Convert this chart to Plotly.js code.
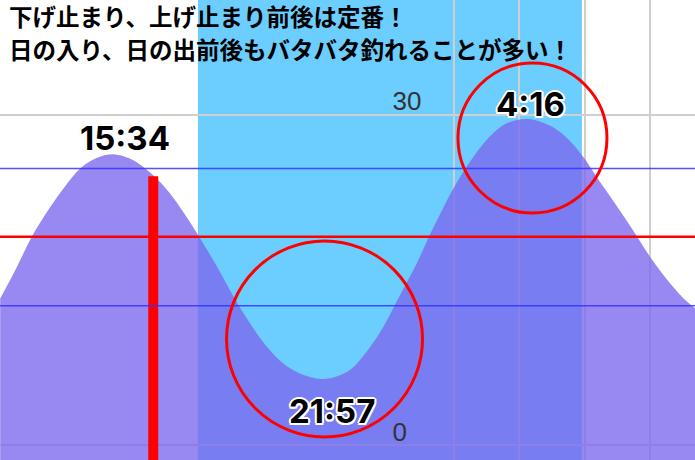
<!DOCTYPE html>
<html>
<head>
<meta charset="utf-8">
<script src="https://cdn.plot.ly/plotly-3.0.1.min.js"></script>
<style>
  html, body { margin: 0; padding: 0; background: #fff; }
  #tide-plot { width: 695px; height: 460px; }
</style>
</head>
<body>
<div id="tide-plot"></div>
<script>
// tide level
var tideTimes = [
    '2024-05-01 12:07', '2024-05-01 12:37', '2024-05-01 13:05', '2024-05-01 13:39',
    '2024-05-01 14:08', '2024-05-01 14:34', '2024-05-01 15:04', '2024-05-01 15:34',
    '2024-05-01 16:05', '2024-05-01 16:36', '2024-05-01 17:00', '2024-05-01 17:24',
    '2024-05-01 17:48', '2024-05-01 18:10', '2024-05-01 18:45', '2024-05-01 19:14',
    '2024-05-01 19:45', '2024-05-01 20:17', '2024-05-01 20:47', '2024-05-01 21:17',
    '2024-05-01 21:57', '2024-05-01 22:23', '2024-05-01 22:49', '2024-05-01 23:20',
    '2024-05-01 23:50', '2024-05-02 00:21', '2024-05-02 00:52', '2024-05-02 01:15',
    '2024-05-02 01:35', '2024-05-02 02:05', '2024-05-02 02:35', '2024-05-02 03:06',
    '2024-05-02 03:37', '2024-05-02 04:16', '2024-05-02 04:56', '2024-05-02 05:27',
    '2024-05-02 05:57', '2024-05-02 06:28', '2024-05-02 06:59', '2024-05-02 07:30',
    '2024-05-02 08:00', '2024-05-02 08:30', '2024-05-02 09:00', '2024-05-02 09:23'
];
var tideLevels = [
    13.3, 16.1, 18.9, 21.6,
    23.6, 25.1, 26.05, 26.4,
    26.0, 25.0, 23.9, 22.5,
    20.8, 19.1, 16.2, 13.6,
    11.1, 8.9, 7.4, 6.5,
    6.0, 6.2, 6.8, 8.5,
    10.7, 13.6, 16.5, 19.0,
    21.0, 23.8, 26.1, 28.0,
    29.2, 29.6, 29.0, 27.9,
    26.2, 23.9, 21.7, 19.4,
    17.1, 15.1, 13.4, 12.4
];

// high / low tide labels
var extremeTimes  = ['2024-05-01 15:34', '2024-05-01 21:57', '2024-05-02 04:16'];
var extremeLevels = [26.4, 6.0, 29.6];
var extremeLabels = ['15:34', '21:57', '4:16'];

// night band (sunset -> sunrise)
var sunset  = '2024-05-01 18:10';
var sunrise = '2024-05-02 05:55';

// reference levels
var blueLevels = [25.1, 12.65];
var redLevel   = 18.9;

// current time marker
var nowTime  = '2024-05-01 16:48';
var nowLevel = 24.4;

var xRange = ['2024-05-01 12:06:40', '2024-05-02 09:22:40'];
var yRange = [-1.36, 40.4];
var midnight = '2024-05-02 00:00';

var headLines = [
    '下げ止まり、上げ止まり前後は定番！',
    '日の入り、日の出前後もバタバタ釣れることが多い！'
];

var baseTrace = {
    x: [tideTimes[0], tideTimes[tideTimes.length - 1]],
    y: [yRange[0], yRange[0]],
    type: 'scatter',
    mode: 'lines',
    line: { width: 0 },
    hoverinfo: 'skip'
};

var tideTrace = {
    x: tideTimes,
    y: tideLevels,
    type: 'scatter',
    mode: 'lines',
    line: { width: 0, shape: 'spline', smoothing: 1 },
    fill: 'tonexty',
    fillcolor: 'rgba(123,104,238,0.79)'
};

var nowTrace = {
    x: [nowTime, nowTime],
    y: [yRange[0], nowLevel],
    type: 'scatter',
    mode: 'lines',
    line: { color: '#ff0000', width: 10 }
};

var shapes = [
    {
        type: 'rect', xref: 'x', yref: 'paper',
        x0: sunset, x1: sunrise, y0: 0, y1: 1,
        fillcolor: '#6ccdff', line: { width: 0 }, layer: 'below'
    }
];
blueLevels.forEach(function(v){
    shapes.push({
        type: 'line', xref: 'paper', yref: 'y',
        x0: 0, x1: 1, y0: v, y1: v,
        line: { color: 'rgba(50,50,255,0.85)', width: 1.5 }
    });
});
shapes.push({
    type: 'line', xref: 'paper', yref: 'y',
    x0: 0, x1: 1, y0: redLevel, y1: redLevel,
    line: { color: '#ff0000', width: 2.5 }
});
// red rings round the low and the second high
shapes.push({
    type: 'circle', xref: 'x', yref: 'y',
    xsizemode: 'pixel', ysizemode: 'pixel',
    xanchor: extremeTimes[1], yanchor: extremeLevels[1],
    x0: -95, x1: 101, y0: -58, y1: 138,
    line: { color: '#ff0000', width: 3 }
});
shapes.push({
    type: 'circle', xref: 'x', yref: 'y',
    xsizemode: 'pixel', ysizemode: 'pixel',
    xanchor: extremeTimes[2], yanchor: extremeLevels[2],
    x0: -70, x1: 79, y0: -94, y1: 56,
    line: { color: '#ff0000', width: 3 }
});

var outline = '2px 0 0 #fff, -2px 0 0 #fff, 0 2px 0 #fff, 0 -2px 0 #fff, ' +
              '1.5px 1.5px 0 #fff, -1.5px 1.5px 0 #fff, 1.5px -1.5px 0 #fff, -1.5px -1.5px 0 #fff, ' +
              '0 0 3px #888';
var labelShift = [[12, 16], [10, -32], [3, 15]];

var annotations = extremeLabels.map(function(txt, i){
    return {
        x: extremeTimes[i], y: extremeLevels[i],
        xref: 'x', yref: 'y',
        text: txt, showarrow: false,
        xanchor: 'center', yanchor: 'middle',
        xshift: labelShift[i][0], yshift: labelShift[i][1],
        font: { family: 'Inter, Roboto, sans-serif', size: 33, weight: 700, color: '#000', shadow: outline }
    };
});
headLines.forEach(function(txt, i){
    annotations.push({
        x: 0, y: 1, xref: 'paper', yref: 'paper',
        xanchor: 'left', yanchor: 'middle',
        xshift: 7, yshift: i === 0 ? -16 : -49,
        text: txt, showarrow: false,
        font: { family: '"Noto Sans CJK JP", sans-serif', size: 23.5, weight: 700, color: '#000' }
    });
});

function toMs(s) { return new Date(s.replace(' ', 'T') + 'Z').getTime(); }
var midPos = (toMs(midnight) - toMs(xRange[0])) / (toMs(xRange[1]) - toMs(xRange[0]));

var layout = {
    width: 695,
    height: 460,
    margin: { l: 0, r: 0, t: 0, b: 0 },
    paper_bgcolor: '#fff',
    plot_bgcolor: '#fff',
    showlegend: false,
    xaxis: {
        type: 'date',
        range: xRange,
        tick0: '2024-05-01 00:00',
        dtick: 7200000,
        showticklabels: false,
        ticks: '',
        showgrid: true,
        gridcolor: '#cfcfcf',
        gridwidth: 2,
        zeroline: false,
        fixedrange: true
    },
    yaxis: {
        range: yRange,
        tick0: 0,
        dtick: 30,
        anchor: 'free',
        position: midPos,
        showline: false,
        ticks: '',
        ticklabelposition: 'inside top',
        ticklabelshift: 5,
        tickfont: { family: '"Liberation Sans", Arial, sans-serif', size: 26, color: '#333' },
        showgrid: true,
        gridcolor: '#cfcfcf',
        gridwidth: 2,
        zeroline: false,
        fixedrange: true
    },
    shapes: shapes,
    annotations: annotations
};

Plotly.newPlot('tide-plot', [baseTrace, tideTrace, nowTrace], layout, { displayModeBar: false, staticPlot: true });
</script>
</body>
</html>
